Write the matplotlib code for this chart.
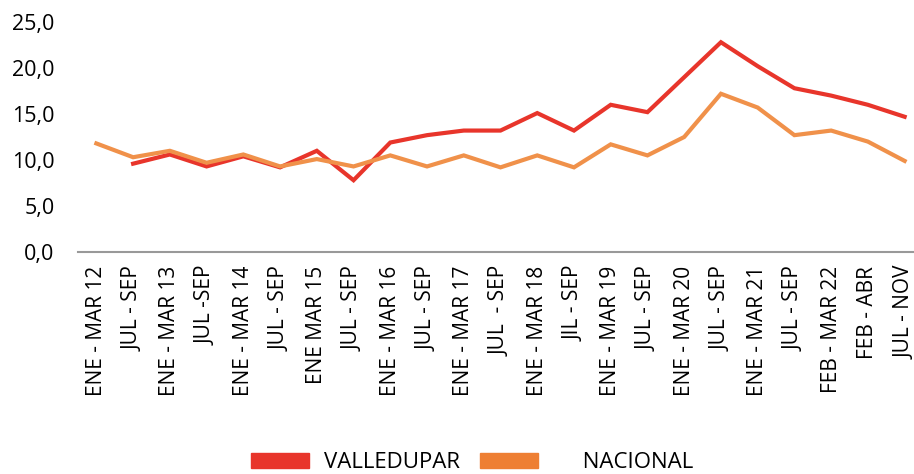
import numpy as np
import matplotlib
matplotlib.use('Agg')
import matplotlib.pyplot as plt
from matplotlib.patches import Patch

plt.rcParams['font.family'] = ['Open Sans', 'DejaVu Sans']

periodos = ['ENE - MAR 12', 'JUL - SEP', 'ENE - MAR 13', 'JUL -SEP', 'ENE - MAR 14',
            'JUL - SEP', 'ENE MAR 15', 'JUL - SEP', 'ENE - MAR 16', 'JUL - SEP',
            'ENE - MAR 17', 'JUL  - SEP', 'ENE - MAR 18', 'JIL - SEP', 'ENE - MAR 19',
            'JUL - SEP', 'ENE - MAR 20', 'JUL - SEP', 'ENE - MAR 21', 'JUL - SEP',
            'FEB - MAR 22', 'FEB - ABR', 'JUL - NOV']
valledupar = [np.nan, 9.6, 10.6, 9.3, 10.4, 9.2, 11.0, 7.8, 11.9, 12.7, 13.2, 13.2,
              15.1, 13.2, 16.0, 15.2, 19.0, 22.8, 20.2, 17.8, 17.0, 16.0, 14.7]
nacional = [11.8, 10.3, 11.0, 9.7, 10.6, 9.3, 10.1, 9.3, 10.5, 9.3, 10.5, 9.2,
            10.5, 9.2, 11.7, 10.5, 12.5, 17.2, 15.7, 12.7, 13.2, 12.0, 9.9]
yticks = [0, 5, 10, 15, 20, 25]

rojo = '#E8352B'
naranja = '#F0914A'

fig = plt.figure(figsize=(9.14, 4.74), dpi=100)
ax = fig.add_axes([78/914, 222/474, 845/914, 230/474])

x = np.arange(len(periodos))
ax.plot(x, valledupar, color=rojo, lw=3.0, solid_joinstyle='miter')
ax.plot(x, nacional, color=naranja, lw=3.0, solid_joinstyle='miter')

ax.set_xlim(-0.5, len(periodos) - 0.5)
ax.set_ylim(0, 25)
ax.set_yticks(yticks)
ax.set_yticklabels([f'{v:.1f}'.replace('.', ',') for v in yticks], fontsize=15.5)
ax.set_xticks(x)
ax.set_xticklabels(periodos, rotation=90, fontsize=15, va='top', ha='center')
ax.tick_params(axis='both', length=0)
ax.tick_params(axis='y', pad=17)
ax.tick_params(axis='x', pad=10)

for s in ['top', 'right', 'left']:
    ax.spines[s].set_visible(False)
ax.spines['bottom'].set_color('#999999')
ax.spines['bottom'].set_linewidth(1.5)

handles = [Patch(color='#E8352B'), Patch(color='#EE7F33')]
fig.legend(handles, ['VALLEDUPAR', '     NACIONAL'], loc='center', bbox_to_anchor=(472/914, 1 - 463/474),
           ncol=2, frameon=False, fontsize=16, handlelength=2.6, handleheight=0.65,
           columnspacing=0.9, handletextpad=0.7)

fig.savefig('out.png', dpi=100)
